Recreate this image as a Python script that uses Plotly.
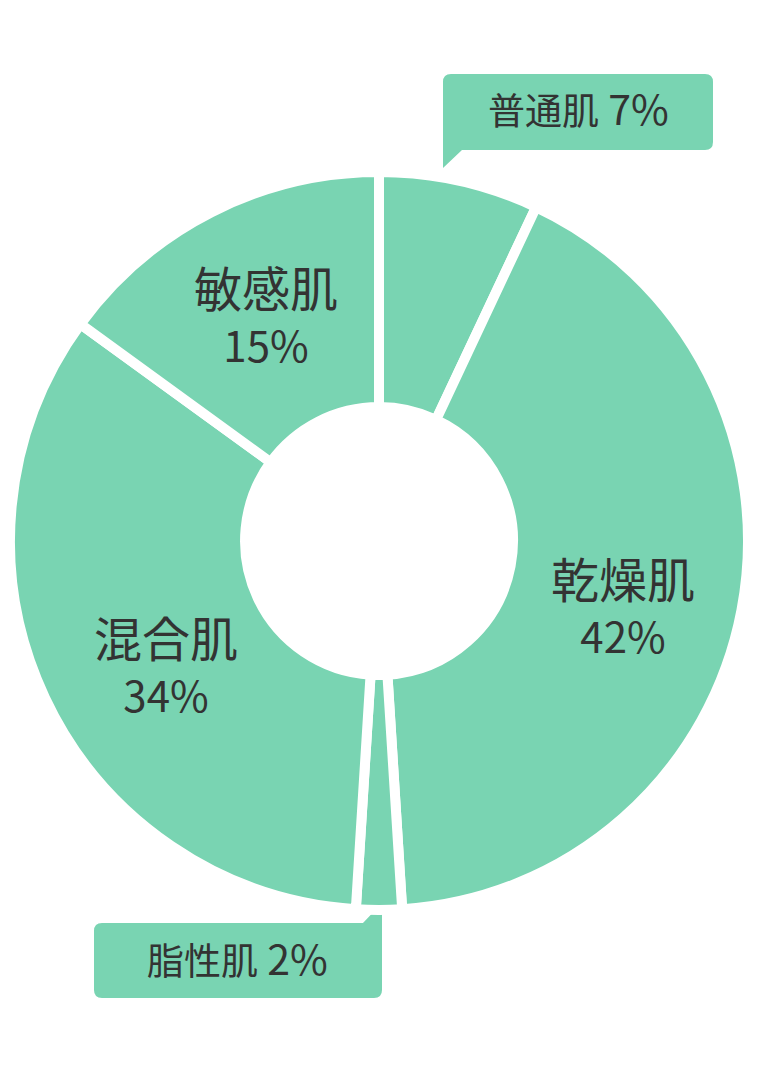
import plotly.graph_objects as go

# skin type survey, clockwise from 12 o'clock
labels = ['普通肌', '乾燥肌', '脂性肌', '混合肌', '敏感肌']
values = [7, 42, 2, 34, 15]

PAGE_W, PAGE_H = 758, 1086
OFF = 8  # default body margin of the html page
W, H = PAGE_W - OFF, PAGE_H - OFF
green = '#79d4b2'
ink = '#333333'
font = 'Noto Sans CJK JP'


def px(x, y):
    # page pixel -> paper coords
    return (x - OFF) / W, 1 - (y - OFF) / H


def path(points):
    out = []
    for cmd, pts in points:
        coords = ' '.join('%.5f,%.5f' % px(*p) for p in pts)
        out.append(cmd + ' ' + coords if pts else cmd)
    return ' '.join(out)


x0, y0 = px(10, 910)
x1, y1 = px(748, 172)
fig = go.Figure(go.Pie(
    labels=labels, values=values,
    sort=False, direction='clockwise', rotation=0,
    hole=0.363,
    marker=dict(colors=[green] * len(labels), line=dict(color='white', width=10)),
    textinfo='none', hoverinfo='label+percent',
    showlegend=False,
    domain=dict(x=[x0, x1], y=[y0, y1]),
))

# callout boxes for the two thin slices
box_top = path([
    ('M', [(443, 82)]), ('Q', [(443, 74), (451, 74)]),
    ('L', [(705, 74)]), ('Q', [(713, 74), (713, 82)]),
    ('L', [(713, 142)]), ('Q', [(713, 150), (705, 150)]),
    ('L', [(462, 150)]), ('L', [(443, 168)]), ('Z', []),
])
box_bottom = path([
    ('M', [(94, 931)]), ('Q', [(94, 923), (102, 923)]),
    ('L', [(363, 923)]), ('L', [(382, 903)]),
    ('L', [(382, 990)]), ('Q', [(382, 998), (374, 998)]),
    ('L', [(102, 998)]), ('Q', [(94, 998), (94, 990)]), ('Z', []),
])
shapes = [dict(type='path', path=p, xref='paper', yref='paper',
               fillcolor=green, line=dict(width=0), layer='below')
          for p in (box_top, box_bottom)]

# label block centres (page pixels)
inside = {'乾燥肌': (623, 603), '敏感肌': (266, 312), '混合肌': (166, 662)}
callout = {'普通肌': (578, 107), '脂性肌': (238, 957)}

annotations = []
for lab, val in zip(labels, values):
    if lab in inside:
        x, y = px(*inside[lab])
        text = '<span style="font-size:48px">%s</span><br>%d%%' % (lab, val)
        size = 42
    else:
        x, y = px(*callout[lab])
        text = '<span style="font-size:37px">%s</span> %d%%' % (lab, val)
        size = 41
    annotations.append(dict(
        x=x, y=y, text=text, xref='paper', yref='paper', showarrow=False,
        xanchor='center', yanchor='middle',
        font=dict(size=size, color=ink, family=font)))

fig.update_layout(
    width=W, height=H,
    margin=dict(l=0, r=0, t=0, b=0),
    paper_bgcolor='white', plot_bgcolor='white',
    shapes=shapes, annotations=annotations,
)

fig.write_html("out.html")
